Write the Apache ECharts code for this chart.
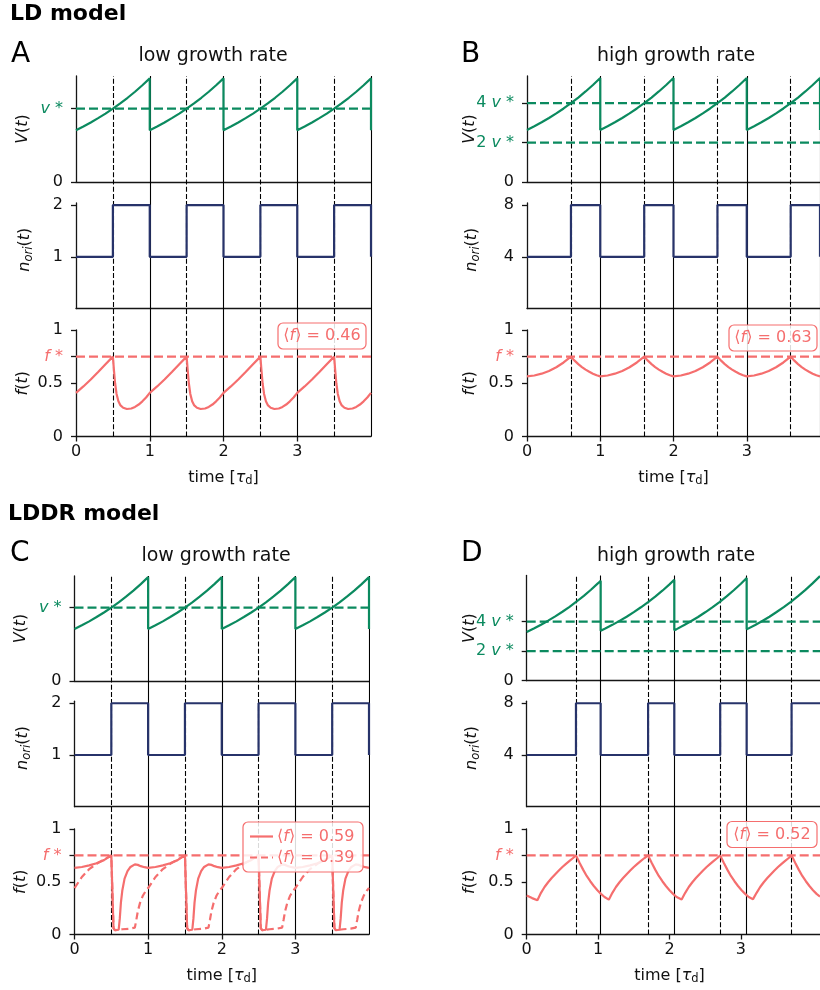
<!DOCTYPE html>
<html><head><meta charset="utf-8">
<script src="https://cdn.jsdelivr.net/npm/echarts@6/dist/echarts.min.js"></script>
<style>html,body{margin:0;padding:0;background:#fff}#c{width:820px;height:990px}</style>
</head><body><div id="c"></div><script>
// ---------------- DATA ----------------
const modelTitles = ['LD model', 'LDDR model'];
const panelLetters = ['A', 'B', 'C', 'D'];
const panelTitles = ['low growth rate', 'high growth rate', 'low growth rate', 'high growth rate'];
const xTicks = [0, 1, 2, 3];
const xTickLabels = ['0', '1', '2', '3'];
const fStar = [0.75];
const fTicks = [0, 0.5, 0.75, 1];
const fTickLabels = ['0', '0.5', '{ci|f}{c| *}', '1'];

// Panel A (LD, low growth rate)
const A_init = [0.5, 1.5, 2.5, 3.5];
const A_div = [1, 2, 3, 4];
const A_V = [[0,0.707],[0.1,0.758],[0.2,0.812],[0.3,0.871],[0.4,0.933],[0.5,1.0],[0.6,1.072],[0.7,1.149],[0.8,1.231],[0.9,1.32],[1,1.414],[1,0.707],
[1.1,0.758],[1.2,0.812],[1.3,0.871],[1.4,0.933],[1.5,1.0],[1.6,1.072],[1.7,1.149],[1.8,1.231],[1.9,1.32],[2,1.414],[2,0.707],
[2.1,0.758],[2.2,0.812],[2.3,0.871],[2.4,0.933],[2.5,1.0],[2.6,1.072],[2.7,1.149],[2.8,1.231],[2.9,1.32],[3,1.414],[3,0.707],
[3.1,0.758],[3.2,0.812],[3.3,0.871],[3.4,0.933],[3.5,1.0],[3.6,1.072],[3.7,1.149],[3.8,1.231],[3.9,1.32],[4,1.414],[4,0.707]];
const A_N = [[0,1],[0.5,2],[1,1],[1.5,2],[2,1],[2.5,2],[3,1],[3.5,2],[4,1]];
const A_F = [[0,0.41],[0.1,0.47],[0.2,0.535],[0.3,0.605],[0.4,0.678],[0.5,0.75],[0.515,0.62],[0.53,0.5],[0.55,0.4],[0.575,0.33],[0.6,0.295],[0.64,0.27],[0.69,0.258],[0.75,0.263],[0.8,0.278],[0.85,0.3],[0.9,0.33],[0.95,0.366],
[1,0.41],[1.1,0.47],[1.2,0.535],[1.3,0.605],[1.4,0.678],[1.5,0.75],[1.515,0.62],[1.53,0.5],[1.55,0.4],[1.575,0.33],[1.6,0.295],[1.64,0.27],[1.69,0.258],[1.75,0.263],[1.8,0.278],[1.85,0.3],[1.9,0.33],[1.95,0.366],
[2,0.41],[2.1,0.47],[2.2,0.535],[2.3,0.605],[2.4,0.678],[2.5,0.75],[2.515,0.62],[2.53,0.5],[2.55,0.4],[2.575,0.33],[2.6,0.295],[2.64,0.27],[2.69,0.258],[2.75,0.263],[2.8,0.278],[2.85,0.3],[2.9,0.33],[2.95,0.366],
[3,0.41],[3.1,0.47],[3.2,0.535],[3.3,0.605],[3.4,0.678],[3.5,0.75],[3.515,0.62],[3.53,0.5],[3.55,0.4],[3.575,0.33],[3.6,0.295],[3.64,0.27],[3.69,0.258],[3.75,0.263],[3.8,0.278],[3.85,0.3],[3.9,0.33],[3.95,0.366],[4,0.41]];
const A_vRef = [1];
const A_vTicks = [0, 1];
const A_vTickLabels = ['0', '{gi|v}{g| *}'];
const A_nTicks = [1, 2];
const A_nTickLabels = ['1', '2'];
const A_fMean = ['0.46'];

// Panel B (LD, high growth rate)
const B_init = [0.6, 1.6, 2.6, 3.6];
const B_div = [1, 2, 3, 4];
const B_V = [[0,2.639],[0.1,2.828],[0.2,3.031],[0.3,3.249],[0.4,3.482],[0.5,3.732],[0.6,4.0],[0.7,4.287],[0.8,4.595],[0.9,4.925],[1,5.278],[1,2.639],
[1.1,2.828],[1.2,3.031],[1.3,3.249],[1.4,3.482],[1.5,3.732],[1.6,4.0],[1.7,4.287],[1.8,4.595],[1.9,4.925],[2,5.278],[2,2.639],
[2.1,2.828],[2.2,3.031],[2.3,3.249],[2.4,3.482],[2.5,3.732],[2.6,4.0],[2.7,4.287],[2.8,4.595],[2.9,4.925],[3,5.278],[3,2.639],
[3.1,2.828],[3.2,3.031],[3.3,3.249],[3.4,3.482],[3.5,3.732],[3.6,4.0],[3.7,4.287],[3.8,4.595],[3.9,4.925],[4,5.278],[4,2.639]];
const B_N = [[0,4],[0.6,8],[1,4],[1.6,8],[2,4],[2.6,8],[3,4],[3.6,8],[4,4]];
const B_F = [[0,0.565],[0.1,0.573],[0.2,0.59],[0.3,0.615],[0.4,0.65],[0.5,0.695],[0.6,0.75],[0.65,0.712],[0.7,0.68],[0.75,0.652],[0.8,0.628],[0.85,0.608],[0.9,0.59],[0.95,0.575],
[1,0.565],[1.1,0.573],[1.2,0.59],[1.3,0.615],[1.4,0.65],[1.5,0.695],[1.6,0.75],[1.65,0.712],[1.7,0.68],[1.75,0.652],[1.8,0.628],[1.85,0.608],[1.9,0.59],[1.95,0.575],
[2,0.565],[2.1,0.573],[2.2,0.59],[2.3,0.615],[2.4,0.65],[2.5,0.695],[2.6,0.75],[2.65,0.712],[2.7,0.68],[2.75,0.652],[2.8,0.628],[2.85,0.608],[2.9,0.59],[2.95,0.575],
[3,0.565],[3.1,0.573],[3.2,0.59],[3.3,0.615],[3.4,0.65],[3.5,0.695],[3.6,0.75],[3.65,0.712],[3.7,0.68],[3.75,0.652],[3.8,0.628],[3.85,0.608],[3.9,0.59],[3.95,0.575],[4,0.565]];
const B_vRef = [2, 4];
const B_vTicks = [0, 2, 4];
const B_vTickLabels = ['0', '{g|2 }{gi|v}{g| *}', '{g|4 }{gi|v}{g| *}'];
const B_nTicks = [4, 8];
const B_nTickLabels = ['4', '8'];
const B_fMean = ['0.63'];

// Panel C (LDDR, low growth rate)
const C_init = [0.5, 1.5, 2.5, 3.5];
const C_div = [1, 2, 3, 4];
const C_V = [[0,0.707],[0.1,0.758],[0.2,0.812],[0.3,0.871],[0.4,0.933],[0.5,1.0],[0.6,1.072],[0.7,1.149],[0.8,1.231],[0.9,1.32],[1,1.414],[1,0.707],
[1.1,0.758],[1.2,0.812],[1.3,0.871],[1.4,0.933],[1.5,1.0],[1.6,1.072],[1.7,1.149],[1.8,1.231],[1.9,1.32],[2,1.414],[2,0.707],
[2.1,0.758],[2.2,0.812],[2.3,0.871],[2.4,0.933],[2.5,1.0],[2.6,1.072],[2.7,1.149],[2.8,1.231],[2.9,1.32],[3,1.414],[3,0.707],
[3.1,0.758],[3.2,0.812],[3.3,0.871],[3.4,0.933],[3.5,1.0],[3.6,1.072],[3.7,1.149],[3.8,1.231],[3.9,1.32],[4,1.414],[4,0.707]];
const C_N = [[0,1],[0.5,2],[1,1],[1.5,2],[2,1],[2.5,2],[3,1],[3.5,2],[4,1]];
const C_F1 = [[0,0.632],[0.1,0.64],[0.2,0.655],[0.3,0.675],[0.4,0.705],[0.5,0.75],[0.515,0.4],[0.53,0.06],[0.55,0.04],[0.6,0.045],[0.615,0.15],[0.63,0.3],[0.65,0.42],[0.68,0.53],[0.72,0.6],[0.76,0.64],[0.82,0.665],[0.86,0.66],[0.9,0.648],[0.95,0.638],
[1,0.632],[1.1,0.64],[1.2,0.655],[1.3,0.675],[1.4,0.705],[1.5,0.75],[1.515,0.4],[1.53,0.06],[1.55,0.04],[1.6,0.045],[1.615,0.15],[1.63,0.3],[1.65,0.42],[1.68,0.53],[1.72,0.6],[1.76,0.64],[1.82,0.665],[1.86,0.66],[1.9,0.648],[1.95,0.638],
[2,0.632],[2.1,0.64],[2.2,0.655],[2.3,0.675],[2.4,0.705],[2.5,0.75],[2.515,0.4],[2.53,0.06],[2.55,0.04],[2.6,0.045],[2.615,0.15],[2.63,0.3],[2.65,0.42],[2.68,0.53],[2.72,0.6],[2.76,0.64],[2.82,0.665],[2.86,0.66],[2.9,0.648],[2.95,0.638],
[3,0.632],[3.1,0.64],[3.2,0.655],[3.3,0.675],[3.4,0.705],[3.5,0.75],[3.515,0.4],[3.53,0.06],[3.55,0.04],[3.6,0.045],[3.615,0.15],[3.63,0.3],[3.65,0.42],[3.68,0.53],[3.72,0.6],[3.76,0.64],[3.82,0.665],[3.86,0.66],[3.9,0.648],[3.95,0.638],[4,0.632]];
const C_F2 = [[0,0.44],[0.1,0.545],[0.2,0.62],[0.3,0.67],[0.4,0.71],[0.5,0.75],[0.515,0.4],[0.53,0.06],[0.55,0.04],[0.65,0.05],[0.75,0.055],[0.82,0.065],[0.84,0.14],[0.86,0.22],[0.89,0.3],[0.93,0.37],[0.97,0.415],
[1,0.44],[1.1,0.545],[1.2,0.62],[1.3,0.67],[1.4,0.71],[1.5,0.75],[1.515,0.4],[1.53,0.06],[1.55,0.04],[1.65,0.05],[1.75,0.055],[1.82,0.065],[1.84,0.14],[1.86,0.22],[1.89,0.3],[1.93,0.37],[1.97,0.415],
[2,0.44],[2.1,0.545],[2.2,0.62],[2.3,0.67],[2.4,0.71],[2.5,0.75],[2.515,0.4],[2.53,0.06],[2.55,0.04],[2.65,0.05],[2.75,0.055],[2.82,0.065],[2.84,0.14],[2.86,0.22],[2.89,0.3],[2.93,0.37],[2.97,0.415],
[3,0.44],[3.1,0.545],[3.2,0.62],[3.3,0.67],[3.4,0.71],[3.5,0.75],[3.515,0.4],[3.53,0.06],[3.55,0.04],[3.65,0.05],[3.75,0.055],[3.82,0.065],[3.84,0.14],[3.86,0.22],[3.89,0.3],[3.93,0.37],[3.97,0.415],[4,0.44]];
const C_vRef = [1];
const C_vTicks = [0, 1];
const C_vTickLabels = ['0', '{gi|v}{g| *}'];
const C_nTicks = [1, 2];
const C_nTickLabels = ['1', '2'];
const C_fMean = ['0.59', '0.39'];

// Panel D (LDDR, high growth rate)
const D_init = [0.69, 1.70, 2.71, 3.71];
const D_div = [1.036, 2.067, 3.081];
const D_V = [[0,3.3],[0.1,3.537],[0.2,3.791],[0.3,4.063],[0.4,4.354],[0.5,4.667],[0.6,5.002],[0.7,5.361],[0.8,5.746],[0.9,6.158],[1.0,6.6],[1.036,6.77],[1.036,3.38],
[1.1,3.53],[1.2,3.78],[1.3,4.05],[1.4,4.33],[1.5,4.64],[1.6,4.97],[1.7,5.32],[1.8,5.69],[1.9,6.09],[2.0,6.52],[2.067,6.83],[2.067,3.415],
[2.1,3.49],[2.2,3.75],[2.3,4.02],[2.4,4.31],[2.5,4.63],[2.6,4.96],[2.7,5.32],[2.8,5.71],[2.9,6.12],[3.0,6.56],[3.081,6.95],[3.081,3.475],
[3.1,3.52],[3.2,3.77],[3.3,4.04],[3.4,4.33],[3.5,4.65],[3.6,4.98],[3.7,5.34],[3.8,5.72],[3.9,6.13],[4.0,6.57],[4.108,7.08]];
const D_N = [[0,4],[0.69,8],[1.036,4],[1.70,8],[2.067,4],[2.71,8],[3.081,4],[3.71,8],[4.108,8]];
const D_F = [[0,0.37],[0.075,0.345],[0.15,0.325],[0.2,0.395],[0.25,0.45],[0.3,0.495],[0.35,0.535],[0.4,0.572],[0.45,0.607],[0.5,0.64],[0.55,0.67],[0.6,0.698],[0.65,0.725],[0.69,0.75],[0.74,0.68],[0.79,0.615],[0.84,0.555],[0.89,0.505],[0.94,0.46],[0.99,0.42],[1.04,0.385],[1.09,0.355],[1.15,0.33],
[1.2,0.395],[1.25,0.45],[1.3,0.495],[1.35,0.535],[1.4,0.572],[1.45,0.607],[1.5,0.64],[1.55,0.67],[1.6,0.698],[1.65,0.725],[1.7,0.75],[1.75,0.68],[1.8,0.615],[1.85,0.555],[1.9,0.505],[1.95,0.46],[2.0,0.42],[2.05,0.385],[2.1,0.355],[2.17,0.332],
[2.22,0.395],[2.27,0.45],[2.32,0.495],[2.37,0.535],[2.42,0.572],[2.47,0.607],[2.52,0.64],[2.57,0.67],[2.62,0.698],[2.67,0.725],[2.71,0.75],[2.76,0.68],[2.81,0.615],[2.86,0.555],[2.91,0.505],[2.96,0.46],[3.01,0.42],[3.06,0.385],[3.11,0.355],[3.17,0.335],
[3.22,0.395],[3.27,0.45],[3.32,0.495],[3.37,0.535],[3.42,0.572],[3.47,0.607],[3.52,0.64],[3.57,0.67],[3.62,0.698],[3.67,0.725],[3.71,0.75],[3.76,0.68],[3.81,0.615],[3.86,0.555],[3.91,0.505],[3.96,0.46],[4.01,0.42],[4.06,0.385],[4.108,0.36]];
const D_vRef = [2, 4];
const D_vTicks = [0, 2, 4];
const D_vTickLabels = ['0', '{g|2 }{gi|v}{g| *}', '{g|4 }{gi|v}{g| *}'];
const D_nTicks = [4, 8];
const D_nTickLabels = ['4', '8'];
const D_fMean = ['0.52'];

// ---------------- STYLE / LAYOUT ----------------
const FONT = 'DejaVu Sans';
const GRN = '#0b8a5f', NAV = '#27336a', COR = '#f56e6e', AX = '#151515', TXT = '#111';
const panels = [
  {left:76, width:295, xmax:4, rows:[[76,106,1.446],[203,105.5,2.04],[330,106.5,1]], ylabX:23,
   init:A_init, div:A_div, V:A_V, N:A_N, F:[A_F], vRef:A_vRef, vT:A_vTicks, vL:A_vTickLabels, nT:A_nTicks, nL:A_nTickLabels},
  {left:527, width:293, xmax:4, rows:[[76,106,5.38],[203,105.5,8.16],[330,106.5,1]], ylabX:470,
   init:B_init, div:B_div, V:B_V, N:B_N, F:[B_F], vRef:B_vRef, vT:B_vTicks, vL:B_vTickLabels, nT:B_nTicks, nL:B_nTickLabels},
  {left:74.5, width:294.5, xmax:4, rows:[[576,105,1.43],[701.2,105.5,2.04],[829,105.5,1]], ylabX:21,
   init:C_init, div:C_div, V:C_V, N:C_N, F:[C_F1, C_F2], vRef:C_vRef, vT:C_vTicks, vL:C_vTickLabels, nT:C_nTicks, nL:C_nTickLabels},
  {left:526.7, width:293.3, xmax:4.108, rows:[[575.5,105.2,7.12],[701.2,105.5,8.16],[829,105.5,1]], ylabX:470,
   init:D_init, div:D_div, V:D_V, N:D_N, F:[D_F], vRef:D_vRef, vT:D_vTicks, vL:D_vTickLabels, nT:D_nTicks, nL:D_nTickLabels}
];

const labelRich = {
  g: {color: GRN, fontSize: 16, fontFamily: FONT},
  gi: {color: GRN, fontSize: 16, fontFamily: FONT, fontStyle: 'italic'},
  c: {color: COR, fontSize: 16, fontFamily: FONT},
  ci: {color: COR, fontSize: 16, fontFamily: FONT, fontStyle: 'italic'}
};
function lab(v, vals, labels) {
  for (let k = 0; k < vals.length; k++) if (Math.abs(v - vals[k]) < 1e-6) return labels[k];
  return '';
}

const grids = [], xAxes = [], yAxes = [], series = [];
function addGrid(p, top, height, ymax, yT, yL, bottom, hidden) {
  const i = grids.length;
  grids.push({left:p.left, top:top, width:p.width, height:height, containLabel:false, outerBoundsMode:'none', show:false});
  xAxes.push({gridIndex:i, type:'value', min:0, max:p.xmax, show:!hidden,
    axisLine:{show:true, onZero:false, lineStyle:{color:AX, width:1.3}},
    axisTick:{show:!!bottom, customValues:xTicks, length:5, lineStyle:{color:AX, width:1.3}},
    axisLabel:{show:!!bottom, customValues:xTicks, formatter:v=>lab(v, xTicks, xTickLabels), margin:7, fontSize:16, fontFamily:FONT, color:TXT},
    splitLine:{show:false}});
  yAxes.push({gridIndex:i, type:'value', min:0, max:ymax, show:!hidden,
    axisLine:{show:true, onZero:false, lineStyle:{color:AX, width:1.3}},
    axisTick:{show:true, customValues:yT, length:5, lineStyle:{color:AX, width:1.3}},
    axisLabel:{show:true, customValues:yT, formatter:v=>lab(v, yT, yL), margin:13, fontSize:16, fontFamily:FONT, color:TXT, rich:labelRich},
    splitLine:{show:false}});
  return i;
}
function lineSeries(i, data, color, width, type, step, z) {
  series.push({type:'line', xAxisIndex:i, yAxisIndex:i, data:data, showSymbol:false, symbol:'none', step:step || false,
    lineStyle:{color:color, width:width, type:type || 'solid'}, z:z || 3, silent:true, animation:false});
}

panels.forEach(p => {
  const top = p.rows[0][0], bot = p.rows[2][0] + p.rows[2][1];
  const o = addGrid(p, top, bot - top, 1, [], [], false, true);
  series.push({type:'lines', coordinateSystem:'cartesian2d', xAxisIndex:o, yAxisIndex:o, polyline:false, silent:true, z:1,
    data:p.div.map(t => ({coords:[[t,0],[t,1]]})), lineStyle:{color:'#000', width:1.1, type:'solid', opacity:1}});
  series.push({type:'lines', coordinateSystem:'cartesian2d', xAxisIndex:o, yAxisIndex:o, polyline:false, silent:true, z:1,
    data:p.init.map(t => ({coords:[[t,0],[t,1]]})), lineStyle:{color:'#000', width:1.1, type:[5,2.2], opacity:1}});
  const iv = addGrid(p, p.rows[0][0], p.rows[0][1], p.rows[0][2], p.vT, p.vL, false);
  p.vRef.forEach(r => lineSeries(iv, [[0,r],[p.xmax,r]], GRN, 2.2, [9,4], false, 2));
  lineSeries(iv, p.V, GRN, 2.2);
  const inn = addGrid(p, p.rows[1][0], p.rows[1][1], p.rows[1][2], p.nT, p.nL, false);
  lineSeries(inn, p.N, NAV, 2.2, 'solid', 'end');
  const iff = addGrid(p, p.rows[2][0], p.rows[2][1], p.rows[2][2], fTicks, fTickLabels, true);
  lineSeries(iff, [[0,fStar[0]],[p.xmax,fStar[0]]], COR, 2.2, [9,4], false, 2);
  lineSeries(iff, p.F[0], COR, 2.2);
  if (p.F[1]) lineSeries(iff, p.F[1], COR, 2.2, [7,4]);
});

// ---------------- TEXT / ANNOTATIONS ----------------
const tr = {
  n: {fontSize:16, fontFamily:FONT, fill:TXT, lineHeight:20},
  i: {fontSize:16, fontFamily:FONT, fill:TXT, fontStyle:'italic', lineHeight:20},
  s: {fontSize:11.5, fontFamily:FONT, fill:TXT, fontStyle:'italic', lineHeight:13, verticalAlign:'bottom'},
  s2: {fontSize:11.5, fontFamily:FONT, fill:TXT, lineHeight:13, verticalAlign:'bottom'},
  c: {fontSize:16, fontFamily:FONT, fill:COR},
  ci: {fontSize:16, fontFamily:FONT, fill:COR, fontStyle:'italic'}
};
const graphics = [];
function txt(x, y, text, o) {
  o = o || {};
  graphics.push({type:'text', x:x, y:y, rotation:o.rot || 0, z:200, silent:true,
    style:{text:text, fontSize:o.fs || 16, fontFamily:FONT, fontWeight:o.fw || 'normal', fill:o.fill || TXT,
      textAlign:o.align || 'center', textVerticalAlign:'middle', verticalAlign:'middle', rich:tr}});
}
txt(10, 14, modelTitles[0], {fs:22, fw:'bold', align:'left', fill:'#000'});
txt(8, 514, modelTitles[1], {fs:22, fw:'bold', align:'left', fill:'#000'});
const letterPos = [[11,55],[461,55],[10,554],[461,554]];
const titlePos = [[213,56],[676,56],[216,556],[676,556]];
panelLetters.forEach((l, k) => txt(letterPos[k][0], letterPos[k][1], l, {fs:28, align:'left', fill:'#000'}));
panelTitles.forEach((t, k) => txt(titlePos[k][0], titlePos[k][1], t, {fs:19}));

const yLabV = '{i|V}{n|(}{i|t}{n|)}';
const yLabN = '{i|n}{s|ori}{n|(}{i|t}{n|)}';
const yLabF = '{i|f}{n|(}{i|t}{n|)}';
const xLab = '{n|time [}{i|τ}{s2|d}{n|]}';
panels.forEach(p => {
  const cV = p.rows[0][0] + p.rows[0][1] / 2, cN = p.rows[1][0] + p.rows[1][1] / 2 - 6, cF = p.rows[2][0] + p.rows[2][1] / 2;
  txt(p.ylabX, cV, yLabV, {rot:Math.PI / 2});
  txt(p.ylabX + 2, cN, yLabN, {rot:Math.PI / 2});
  txt(p.ylabX, cF, yLabF, {rot:Math.PI / 2});
  txt(p.left + (2 * p.width / p.xmax), p.rows[2][0] + p.rows[2][1] + 41, xLab, {});
});

function box(x, y, w, h) {
  graphics.push({type:'rect', z:150, silent:true, shape:{x:x, y:y, width:w, height:h, r:5},
    style:{fill:'rgba(255,255,255,0.85)', stroke:COR, lineWidth:1.2}});
}
const meanTxt = m => '{c|⟨}{ci|f}{c|⟩ = ' + m + '}';
box(278, 323, 88, 26); txt(322, 336, meanTxt(A_fMean[0]));
box(729, 325, 88, 26); txt(773, 338, meanTxt(B_fMean[0]));
box(727, 821.5, 90, 26); txt(772, 834.5, meanTxt(D_fMean[0]));
box(243, 822, 120, 50);
graphics.push({type:'line', z:200, silent:true, shape:{x1:250, y1:836.5, x2:273, y2:836.5}, style:{stroke:COR, lineWidth:2.2}});
graphics.push({type:'line', z:200, silent:true, shape:{x1:250, y1:857.5, x2:273, y2:857.5}, style:{stroke:COR, lineWidth:2.2, lineDash:[7,4]}});
txt(277, 836.5, meanTxt(C_fMean[0]), {align:'left'});
txt(277, 857.5, meanTxt(C_fMean[1]), {align:'left'});

const chart = echarts.init(document.getElementById('c'), null, {renderer:'canvas'});
chart.setOption({animation:false, backgroundColor:'#fff', grid:grids, xAxis:xAxes, yAxis:yAxes, series:series, graphic:graphics});
</script></body></html>
